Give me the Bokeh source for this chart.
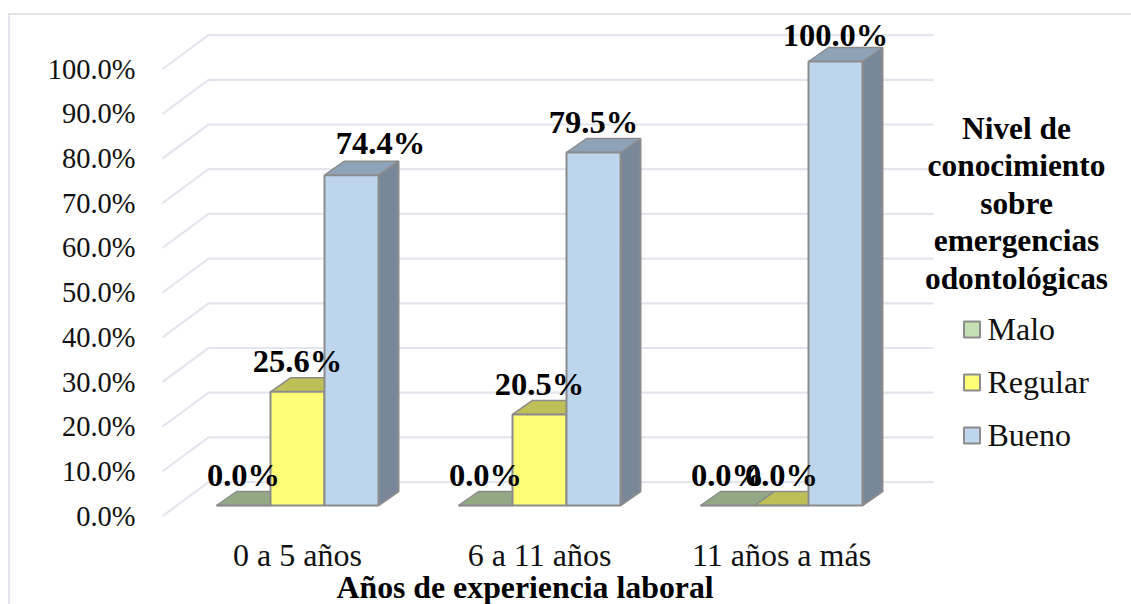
from bokeh.plotting import figure
from bokeh.embed import file_html
from bokeh.resources import INLINE
from bokeh.core.properties import value
from bokeh.models import Range1d, FixedTicker, Title

categories = ["0 a 5 años", "6 a 11 años", "11 años a más"]
malo = [0.0, 0.0, 0.0]
regular = [25.6, 20.5, 0.0]
bueno = [74.4, 79.5, 100.0]
series_names = ["Malo", "Regular", "Bueno"]
y_ticks = [0, 10, 20, 30, 40, 50, 60, 70, 80, 90, 100]
y_tick_labels = ["0.0%", "10.0%", "20.0%", "30.0%", "40.0%", "50.0%", "60.0%", "70.0%", "80.0%", "90.0%", "100.0%"]
legend_title = ["Nivel de", "conocimiento", "sobre", "emergencias", "odontológicas"]
x_title = "Años de experiencia laboral"

SERIF = "Liberation Serif"
W, H = 1131, 604
# scale: pixels per data unit
PX, PY = 242.0, 4.47
X0, Y0 = 297.0, 515.6   # position of group 0 centre and of the 0 % front line
def dx(px): return (px - X0) / PX
def dy(py): return (Y0 - py) / PY

FRAME_L, FRAME_R, FRAME_T, FRAME_B = 145, 1131, 13, 528
p = figure(width=W, height=H, output_backend="svg", toolbar_location=None,
           x_range=Range1d(dx(FRAME_L), dx(FRAME_R)), y_range=Range1d(dy(FRAME_B), dy(FRAME_T)),
           min_border_left=FRAME_L, min_border_right=W - FRAME_R,
           min_border_top=FRAME_T, min_border_bottom=H - FRAME_B,
           styles={"background-image": "linear-gradient(#e2e2e2,#e2e2e2),linear-gradient(#e3e6ee,#e3e6ee)",
                   "background-size": "100% 2px,2px 100%",
                   "background-position": "8px 13px,8px 13px",
                   "background-repeat": "no-repeat"})
p.outline_line_color = None
p.grid.visible = False
p.background_fill_color = None
p.border_fill_color = None

# axes
ya = p.yaxis[0]
ya.ticker = FixedTicker(ticks=y_ticks)
ya.major_label_overrides = dict(zip(y_ticks, y_tick_labels))
ya.axis_line_color = None
ya.major_tick_line_color = None
ya.minor_tick_line_color = None
ya.major_tick_out = 0
ya.major_label_text_font = SERIF
ya.major_label_text_font_size = "28.5px"
ya.major_label_text_color = "#111111"
ya.major_label_standoff = 10

xa = p.xaxis[0]
xa.ticker = FixedTicker(ticks=[0, 1, 2])
xa.major_label_overrides = dict(zip([0, 1, 2], categories))
xa.axis_line_color = None
xa.major_tick_line_color = None
xa.minor_tick_line_color = None
xa.major_tick_out = 0
xa.major_label_text_font = SERIF
xa.major_label_text_font_size = "32px"
xa.major_label_text_color = "#111111"
xa.major_label_standoff = 8

# axis title placed as a real title below the axis, offset to sit under the groups
p.add_layout(Title(text=x_title, text_font=SERIF, text_font_style="bold", text_font_size="31.8px",
                   text_color="black", align="left", offset=336 - FRAME_L, standoff=-15), "below")

# 3-D wall and floor grid
DEPTH_X, DEPTH_Y = 46 / PX, 34 / PY
GL, GR = dx(162), dx(933)
p.multi_line(xs=[[GL, GL + DEPTH_X, GR] for _ in y_ticks],
             ys=[[t, t + DEPTH_Y, t + DEPTH_Y] for t in y_ticks],
             line_color="#e3e6ee", line_width=2.2)

# 3-D bars
BAR_W = 54 / PX
BX, BY = 20 / PX, 14 / PY
BASE = dy(505)
BAR_SCALE = 4.44 / PY
colors = {
    "Malo": ("#c5e0b3", "#93a986", "#7f9573"),
    "Regular": ("#ffff75", "#bfbf57", "#a8a84a"),
    "Bueno": ("#bdd6ee", "#8ea3b8", "#788899"),
}
BORDER = "#8c8c8c"
offsets = [-1, 0, 1]
for name, vals, off in zip(series_names, [malo, regular, bueno], offsets):
    front, top_c, side_c = colors[name]
    lefts = [i + off * BAR_W - BAR_W / 2 for i in range(len(vals))]
    rights = [l + BAR_W for l in lefts]
    tops = [BASE + v * BAR_SCALE for v in vals]
    p.patches([[r, r + BX, r + BX, r] for r in rights],
              [[BASE, BASE + BY, t + BY, t] for t in tops],
              fill_color=side_c, line_color=BORDER, line_width=2)
    p.patches([[l, l + BX, r + BX, r] for l, r in zip(lefts, rights)],
              [[t, t + BY, t + BY, t] for t in tops],
              fill_color=top_c, line_color=BORDER, line_width=1.5)
    p.quad(left=lefts, right=rights, bottom=BASE, top=tops,
           fill_color=front, line_color=BORDER, line_width=2)

# data labels (two of them sit slightly off their default spot in the original)
lab_x, lab_y, lab_t = [], [], []
LABEL_UP = 30.5 / PY
for vals, off in zip([malo, regular, bueno], offsets):
    for i, v in enumerate(vals):
        nudge_x = 29 / PX if (off == 1 and i == 0) else 0
        nudge_y = 0
        if off == 1 and i == 0:
            nudge_y = 1.5 / PY
        if off == 1 and i == 2:
            nudge_y = -3.5 / PY
        lab_x.append(i + off * BAR_W + nudge_x)
        lab_y.append(BASE + v * BAR_SCALE + LABEL_UP + nudge_y)
        lab_t.append(f"{v:.1f}%")
p.text(lab_x, lab_y, text=lab_t, text_font=value(SERIF), text_font_style="bold",
       text_font_size="32.5px", text_align="center", text_baseline="middle", text_color="black")

# legend
title_y_px = [128, 165, 203, 240, 278]
p.text([dx(1016)] * len(legend_title), [dy(v) for v in title_y_px], text=legend_title,
       text_font=value(SERIF), text_font_style="bold", text_font_size="31.4px",
       text_align="center", text_baseline="middle", text_color="black")
leg_y_px = [329, 382, 435]
p.scatter([dx(971.5)] * 3, [dy(v) for v in leg_y_px], marker="square", size=16,
          fill_color=[colors[n][0] for n in series_names], line_color=BORDER, line_width=2)
p.text([dx(987)] * 3, [dy(v - 1) for v in leg_y_px], text=series_names,
       text_font=value(SERIF), text_font_size="32px", text_align="left",
       text_baseline="middle", text_color="#111111")

open("out.html", "w").write(file_html(p, INLINE))
